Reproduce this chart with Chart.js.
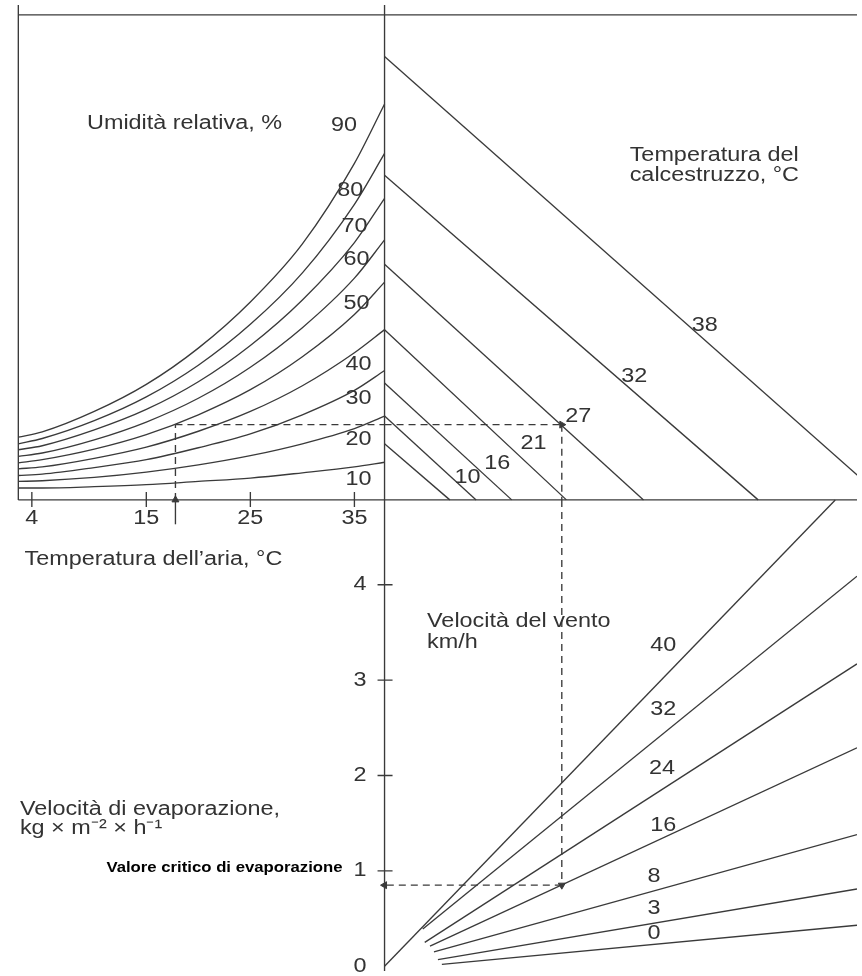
<!DOCTYPE html>
<html lang="it">
<head>
<meta charset="utf-8">
<title>Nomogramma velocità di evaporazione</title>
<script src="https://cdn.jsdelivr.net/npm/chart.js@4.4.1/dist/chart.umd.min.js"></script>
<style>
  html, body { margin: 0; padding: 0; background: #fff; overflow: hidden; }
  #wrap { position: relative; width: 862px; height: 976px; }
</style>
</head>
<body>
<div id="wrap"><canvas id="nomo"></canvas></div>
<script>

// air temperature (°C) where the humidity curves were sampled, left border -> central axis
const airTemps = [2.7, 5, 10, 15, 20, 25, 30, 35, 37.9];
const rhLevels = [10, 20, 30, 40, 50, 60, 70, 80, 90];
// vapour pressure along each relative humidity curve (kPa)
const rh10 = [0.18, 0.18, 0.20, 0.23, 0.28, 0.33, 0.41, 0.50, 0.57];
const rh20 = [0.28, 0.29, 0.34, 0.42, 0.53, 0.67, 0.85, 1.08, 1.27];
const rh30 = [0.37, 0.39, 0.49, 0.61, 0.79, 1.00, 1.29, 1.66, 1.96];
const rh40 = [0.47, 0.50, 0.63, 0.80, 1.04, 1.34, 1.73, 2.23, 2.58];
const rh50 = [0.56, 0.61, 0.77, 0.99, 1.29, 1.67, 2.17, 2.81, 3.30];
const rh60 = [0.66, 0.71, 0.91, 1.18, 1.54, 2.01, 2.61, 3.36, 3.94];
const rh70 = [0.76, 0.82, 1.06, 1.37, 1.79, 2.34, 3.03, 3.90, 4.57];
const rh80 = [0.85, 0.93, 1.20, 1.56, 2.04, 2.66, 3.44, 4.48, 5.25];
const rh90 = [0.95, 1.03, 1.34, 1.75, 2.30, 3.00, 3.88, 5.10, 6.00];
const rhSeries = [rh10, rh20, rh30, rh40, rh50, rh60, rh70, rh80, rh90];

// concrete temperature lines: start on the central axis, end on the baseline
const concreteTemps = [4, 10, 16, 21, 27, 32, 38];
const concreteLabels = ['', '10', '16', '21', '27', '32', '38'];
const concreteStartVap = [0.85, 1.27, 1.77, 2.58, 3.57, 4.92, 6.72];
const concreteEndMid = [0.99, 1.39, 1.93, 2.76, 3.93, 5.67, 7.60];

// wind speed lines (km/h) in the lower panel
const windSpeeds = [0, 3, 8, 16, 24, 32, 40];
const windStartMid = [0.87, 0.81, 0.75, 0.69, 0.61, 0.58, 0];
const windStartEvap = [0.02, 0.07, 0.15, 0.21, 0.25, 0.39, 0];
const windEndMid = [7.17, 7.17, 7.17, 7.17, 7.17, 7.17, 6.84];
const windEndEvap = [0.43, 0.81, 1.38, 2.29, 3.17, 4.09, 4.89];

// tick labels
const airTicks = [4, 15, 25, 35];
const evapTicks = [0, 1, 2, 3, 4];

// worked example (dashed path)
const exAir = 17.8, exVap = 1.14, exMid = 2.69, exEvap = 0.85;

// frame
const LEFT_AIR = 2.7;     // left border
const AXIS_AIR = 37.9;    // air temperature at the central axis
const TOP_VAP = 7.35;     // top border
const BASE_EVAP = 4.89;   // evaporation value at the baseline

// scale ranges (chart area = whole canvas)
const AIR_MIN = 1.42, AIR_MAX = 83.3;
const MID_MIN = -5.76, MID_MAX = 7.17;
const VAP_MIN = -7.14, VAP_MAX = 7.50;
const EVAP_MIN = -0.05, EVAP_MAX = 10.08;

const INK = '#3a3a3a';
const TEXT = '#333';
const FONT = '"Liberation Sans", Arial, Helvetica, sans-serif';
const SX = 1.17; // the printed lettering is a bit wide

function line(points, xID, yID, extra) {
  return Object.assign({
    data: points,
    xAxisID: xID,
    yAxisID: yID,
    showLine: true,
    fill: false,
    borderColor: INK,
    borderWidth: 1.35,
    pointRadius: 0,
    pointHoverRadius: 0
  }, extra || {});
}

function arrow(rot) {
  return {
    pointRadius: [0, 4],
    pointStyle: 'triangle',
    pointRotation: rot,
    pointBackgroundColor: INK,
    pointBorderColor: INK,
    pointBorderWidth: 1
  };
}

const dash = {borderDash: [7, 5]};

let datasets = [];

// frame lines
datasets.push(line([{x: LEFT_AIR, y: 0}, {x: LEFT_AIR, y: VAP_MAX}], 'air', 'vap'));
datasets.push(line([{x: LEFT_AIR, y: TOP_VAP}, {x: AIR_MAX, y: TOP_VAP}], 'air', 'vap'));
datasets.push(line([{x: LEFT_AIR, y: 0}, {x: AIR_MAX, y: 0}], 'air', 'vap'));
datasets.push(line([{x: 0, y: VAP_MIN}, {x: 0, y: VAP_MAX}], 'mid', 'vap'));

// relative humidity curves
rhSeries.forEach(vals => {
  datasets.push(line(airTemps.map((t, i) => ({x: t, y: vals[i]})), 'air', 'vap',
    {cubicInterpolationMode: 'monotone'}));
});

// concrete temperature lines
concreteTemps.forEach((t, i) => {
  datasets.push(line([{x: 0, y: concreteStartVap[i]}, {x: concreteEndMid[i], y: 0}], 'mid', 'vap'));
});

// wind speed lines
windSpeeds.forEach((w, i) => {
  datasets.push(line([{x: windStartMid[i], y: windStartEvap[i]}, {x: windEndMid[i], y: windEndEvap[i]}], 'mid', 'evap'));
});

// example path
datasets.push(line([{x: exAir, y: -0.37}, {x: exAir, y: 0}], 'air', 'vap', arrow(0)));
datasets.push(line([{x: exAir, y: 0}, {x: exAir, y: exVap}], 'air', 'vap', dash));
datasets.push(line([{x: exAir, y: exVap}, {x: AXIS_AIR, y: exVap}], 'air', 'vap', dash));
datasets.push(line([{x: 0, y: exVap}, {x: exMid, y: exVap}], 'mid', 'vap', Object.assign({}, dash, arrow(90))));
datasets.push(line([{x: exMid, y: exVap}, {x: exMid, y: 0}], 'mid', 'vap', dash));
datasets.push(line([{x: exMid, y: BASE_EVAP}, {x: exMid, y: exEvap}], 'mid', 'evap', Object.assign({}, dash, arrow(180))));
datasets.push(line([{x: exMid, y: exEvap}, {x: 0, y: exEvap}], 'mid', 'evap', Object.assign({}, dash, arrow(270))));

function txt(ctx, str, x, y, align, font, color) {
  ctx.save();
  ctx.translate(x, y);
  ctx.scale(SX, 1);
  ctx.font = font;
  ctx.fillStyle = color;
  ctx.textAlign = align;
  ctx.textBaseline = 'middle';
  ctx.fillText(str, 0, 0);
  ctx.restore();
}

// ticks, numbers and captions
const decor = {
  id: 'decor',
  afterDatasetsDraw(chart) {
    const ctx = chart.ctx;
    const air = chart.scales.air, mid = chart.scales.mid;
    const vap = chart.scales.vap, evap = chart.scales.evap;
    const base = vap.getPixelForValue(0);
    const axis = mid.getPixelForValue(0);
    const f = '20px ' + FONT;

    ctx.save();
    ctx.strokeStyle = INK;
    ctx.lineWidth = 1.35;
    ctx.beginPath();
    airTicks.forEach(t => {
      const x = air.getPixelForValue(t);
      ctx.moveTo(x, base - 8);
      ctx.lineTo(x, base + 7);
    });
    evapTicks.forEach(v => {
      if (v === 0) return;
      const y = evap.getPixelForValue(v);
      ctx.moveTo(axis - 7, y);
      ctx.lineTo(axis + 8, y);
    });
    ctx.stroke();
    ctx.restore();

    airTicks.forEach(t => txt(ctx, String(t), air.getPixelForValue(t), base + 19, 'center', f, TEXT));
    evapTicks.forEach(v => txt(ctx, String(v), axis - 18, evap.getPixelForValue(v), 'right', f, TEXT));

    // humidity labels
    const rhAt = [[35.4, 0.31], [35.4, 0.91], [35.4, 1.54], [35.4, 2.05], [35.2, 2.97],
                  [35.2, 3.64], [35.0, 4.15], [34.6, 4.69], [34.0, 5.67]];
    rhLevels.forEach((r, i) => {
      txt(ctx, String(r), air.getPixelForValue(rhAt[i][0]), vap.getPixelForValue(rhAt[i][1]), 'center', f, TEXT);
    });

    // concrete temperature labels
    const ctAt = [null, [1.26, 0.34], [1.71, 0.55], [2.26, 0.85], [2.94, 1.26], [3.79, 1.87], [4.86, 2.65]];
    concreteLabels.forEach((s, i) => {
      if (!s) return;
      txt(ctx, s, mid.getPixelForValue(ctAt[i][0]), vap.getPixelForValue(ctAt[i][1]), 'center', f, TEXT);
    });

    // wind labels
    const wAt = [[4.09, 0.34], [4.09, 0.61], [4.09, 0.94], [4.23, 1.48], [4.21, 2.07], [4.23, 2.69], [4.23, 3.36]];
    windSpeeds.forEach((w, i) => {
      txt(ctx, String(w), mid.getPixelForValue(wAt[i][0]), evap.getPixelForValue(wAt[i][1]), 'center', f, TEXT);
    });

    // captions
    txt(ctx, 'Umidità relativa, %', air.getPixelForValue(9.3), vap.getPixelForValue(5.70), 'left', f, TEXT);
    txt(ctx, 'Temperatura del', mid.getPixelForValue(3.72), vap.getPixelForValue(5.22), 'left', f, TEXT);
    txt(ctx, 'calcestruzzo, °C', mid.getPixelForValue(3.72), vap.getPixelForValue(4.92), 'left', f, TEXT);
    txt(ctx, 'Temperatura dell\u2019aria, °C', air.getPixelForValue(3.3), vap.getPixelForValue(-0.90), 'left', f, TEXT);
    txt(ctx, 'Velocità del vento', mid.getPixelForValue(0.645), evap.getPixelForValue(3.61), 'left', f, TEXT);
    txt(ctx, 'km/h', mid.getPixelForValue(0.645), evap.getPixelForValue(3.40), 'left', f, TEXT);
    txt(ctx, 'Velocità di evaporazione,', air.getPixelForValue(2.85), evap.getPixelForValue(1.64), 'left', f, TEXT);
    txt(ctx, 'kg × m\u207B\u00B2 × h\u207B\u00B9', air.getPixelForValue(2.85), evap.getPixelForValue(1.44), 'left', f, TEXT);
    txt(ctx, 'Valore critico di evaporazione', axis - 42, evap.getPixelForValue(1.03), 'right',
        'bold 14.3px ' + FONT, '#000');
  }
};

new Chart(document.getElementById('nomo'), {
  type: 'scatter',
  data: {datasets: datasets},
  options: {
    responsive: true,
    maintainAspectRatio: false,
    animation: false,
    events: [],
    layout: {padding: 0},
    plugins: {
      legend: {display: false},
      tooltip: {enabled: false},
      title: {display: false}
    },
    scales: {
      air: {axis: 'x', type: 'linear', position: 'bottom', min: AIR_MIN, max: AIR_MAX, display: false},
      mid: {axis: 'x', type: 'linear', position: 'bottom', min: MID_MIN, max: MID_MAX, display: false},
      vap: {axis: 'y', type: 'linear', position: 'left', min: VAP_MIN, max: VAP_MAX, display: false},
      evap: {axis: 'y', type: 'linear', position: 'left', min: EVAP_MIN, max: EVAP_MAX, display: false}
    }
  },
  plugins: [decor]
});
</script>
</body>
</html>
